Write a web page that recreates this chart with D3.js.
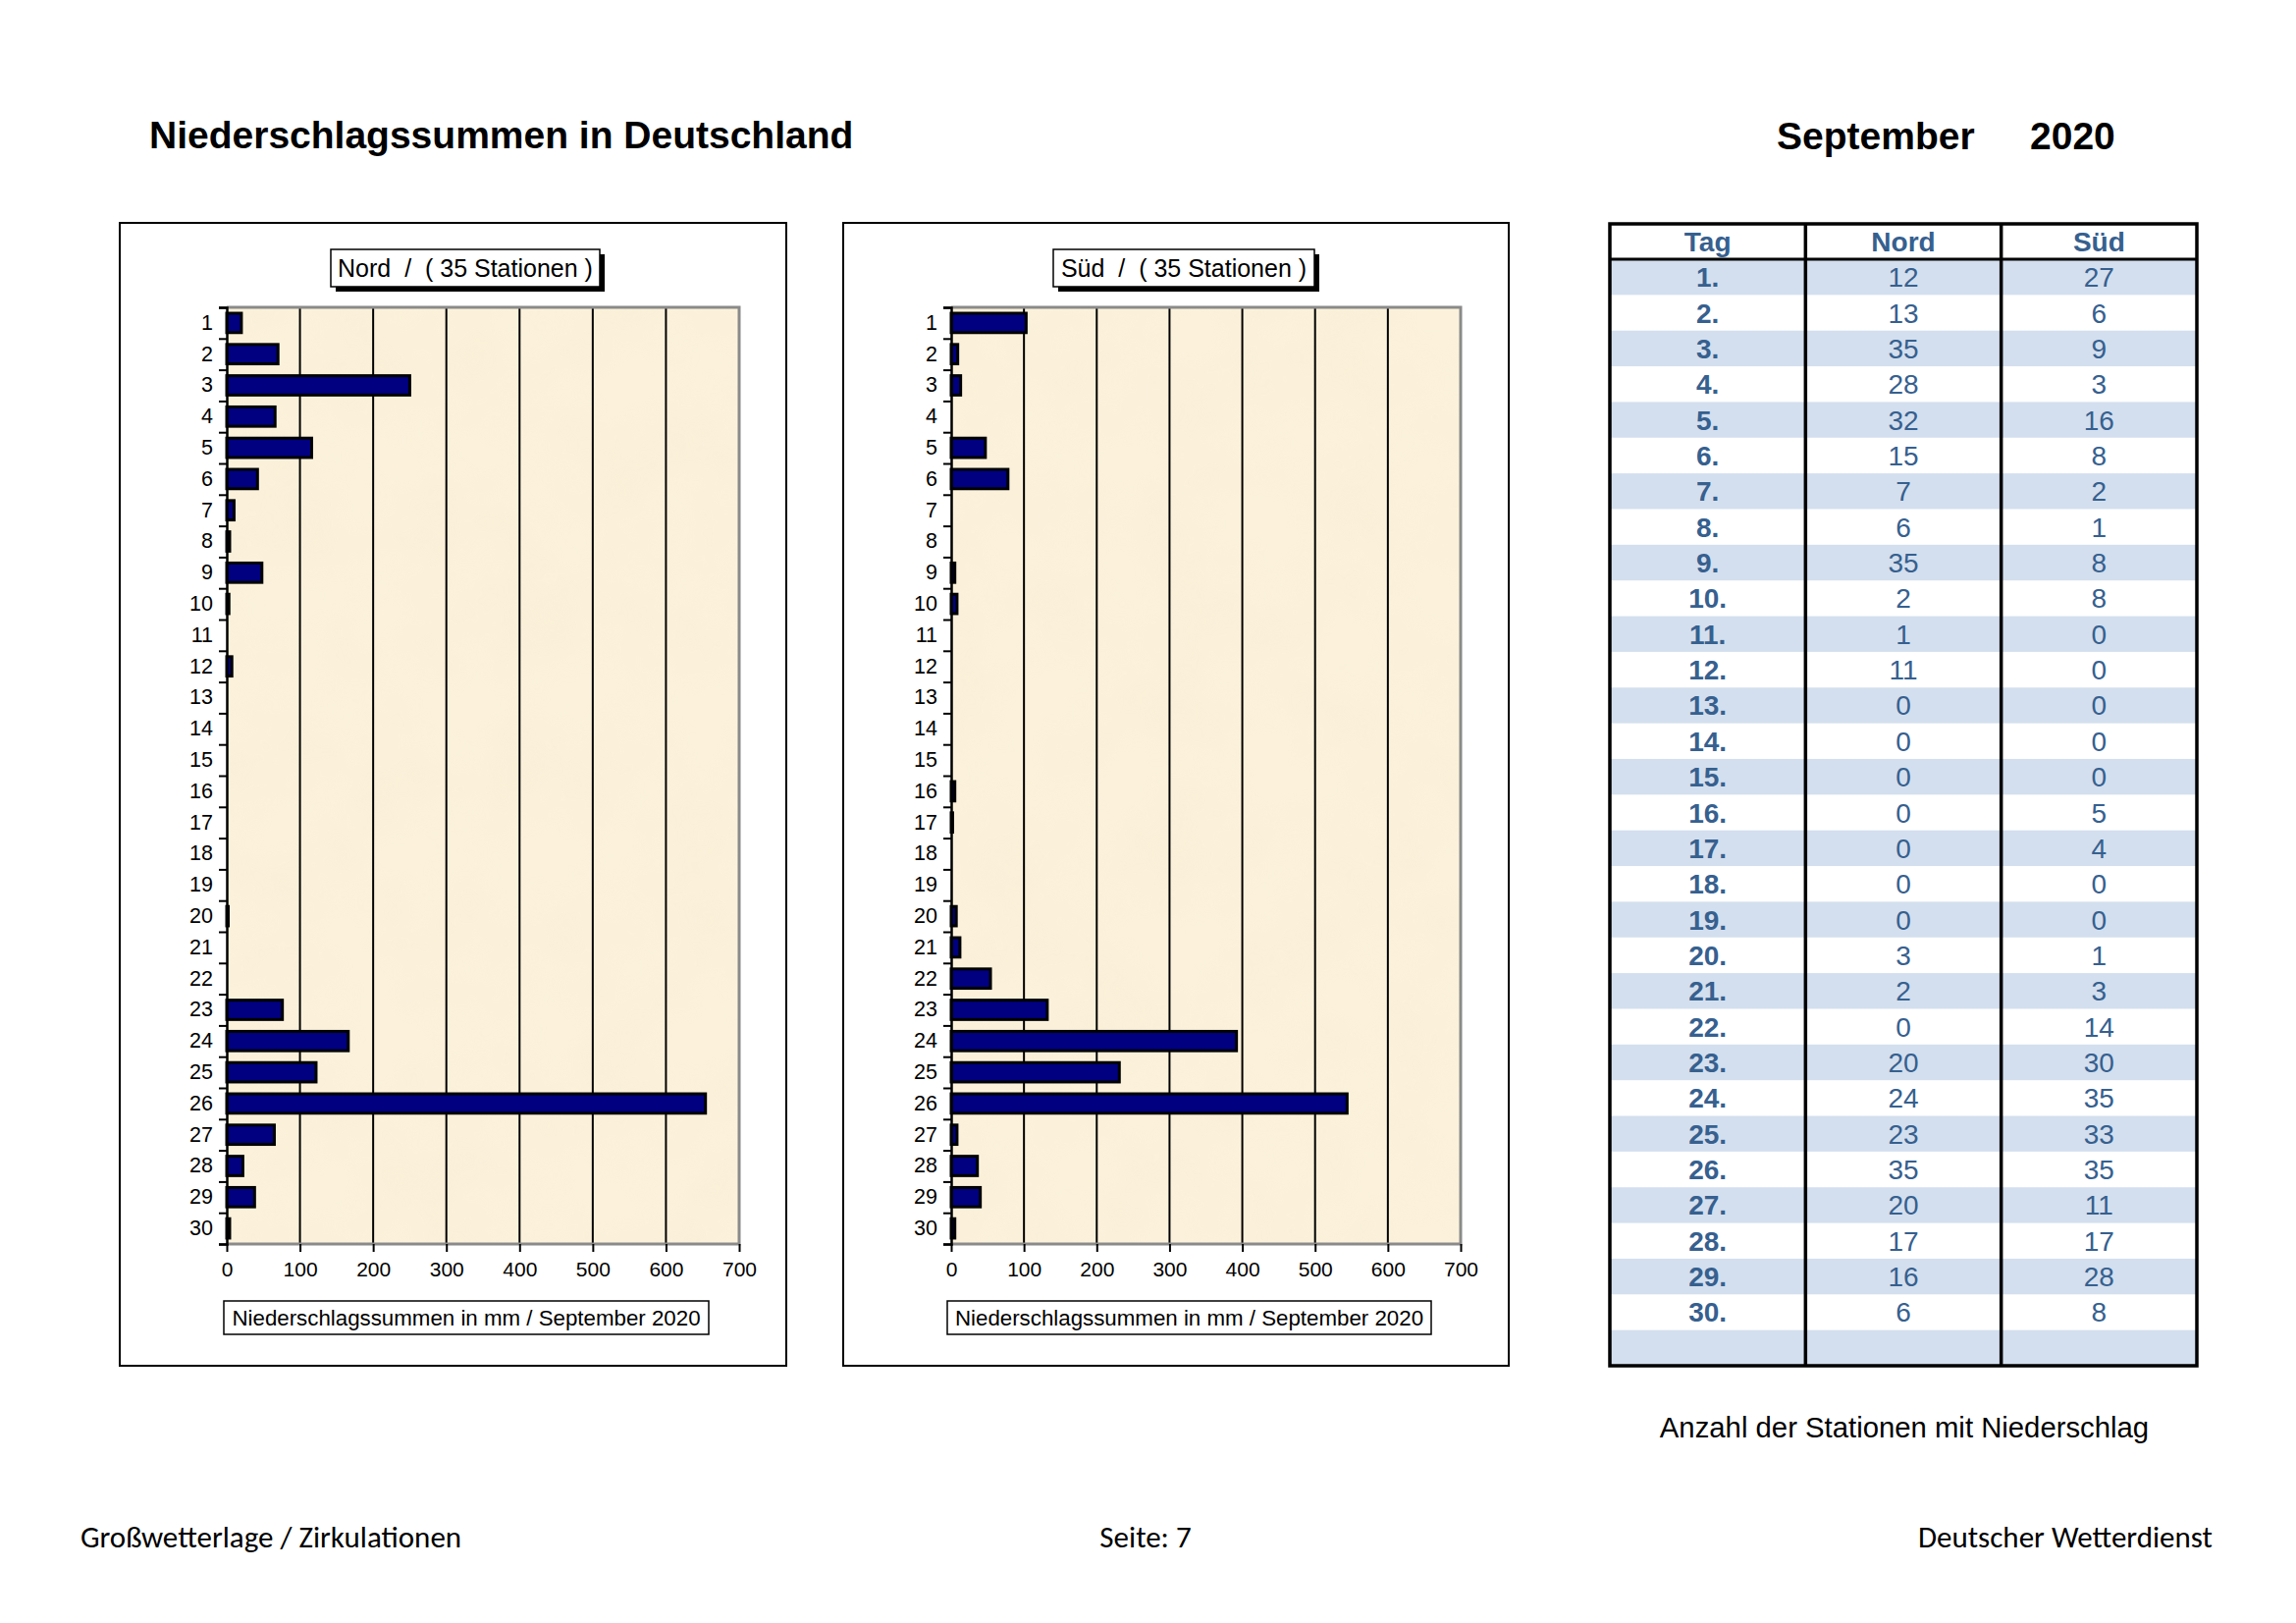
<!DOCTYPE html>
<html><head><meta charset="utf-8">
<script src="https://cdn.jsdelivr.net/npm/d3@7"></script>
<style>body{margin:0;background:#fff}svg{display:block}</style>
</head><body><svg id="c" width="2339" height="1653"></svg>
<script>
// ---------- data ----------
const days = [1,2,3,4,5,6,7,8,9,10,11,12,13,14,15,16,17,18,19,20,21,22,23,24,25,26,27,28,29,30];
const nordSum = [20,70,250,66,116,42,10,4,48,3,0,7,0,0,0,0,0,0,0,2,0,0,76,166,122,654,65,22,38,4];
const suedSum = [103,9,13,0,47,78,0,0,5,8,0,0,0,0,0,5,2,0,0,7,12,54,132,392,231,544,8,36,40,5];
const nordCount = [12,13,35,28,32,15,7,6,35,2,1,11,0,0,0,0,0,0,0,3,2,0,20,24,23,35,20,17,16,6];
const suedCount = [27,6,9,3,16,8,2,1,8,8,0,0,0,0,0,5,4,0,0,1,3,14,30,35,33,35,11,17,28,8];
const xTicks = [0,100,200,300,400,500,600,700];
const tableHeader = ["Tag","Nord","Süd"];
const pageTitle = "Niederschlagssummen in Deutschland";
const monthLabel = "September", yearLabel = "2020";
const axisTitle = "Niederschlagssummen in mm / September 2020";
const tableCaption = "Anzahl der Stationen mit Niederschlag";
const footer = ["Großwetterlage / Zirkulationen","Seite: 7","Deutscher Wetterdienst"];

// ---------- drawing ----------
const svg = d3.select("#c");
const AR = "'Liberation Sans', Arial, sans-serif";
const defs = svg.append("defs");
const f = defs.append("filter").attr("id","parch").attr("x",0).attr("y",0).attr("width",1).attr("height",1);
f.append("feTurbulence").attr("type","fractalNoise").attr("baseFrequency","0.012").attr("numOctaves",4).attr("seed",7).attr("result","n");
f.append("feColorMatrix").attr("in","n").attr("type","matrix")
 .attr("values","0 0 0 0 0.90  0 0 0 0 0.80  0 0 0 0 0.60  0 0 0 0.9 -0.25").attr("result","c");
f.append("feComposite").attr("in","c").attr("in2","SourceGraphic").attr("operator","in");

svg.append("rect").attr("width",2339).attr("height",1653).attr("fill","#fff");

svg.append("text").attr("x",152).attr("y",151).attr("font-family",AR).attr("font-weight","bold")
  .attr("font-size",39).text(pageTitle);
svg.append("text").attr("x",1810).attr("y",152).attr("font-family",AR).attr("font-weight","bold")
  .attr("font-size",39).text(monthLabel);
svg.append("text").attr("x",2068).attr("y",152).attr("font-family",AR).attr("font-weight","bold")
  .attr("font-size",39).text(yearLabel);

function chart(o){
  const g = svg.append("g");
  g.append("rect").attr("x",o.box[0]).attr("y",o.box[1]).attr("width",o.box[2]-o.box[0]).attr("height",o.box[3]-o.box[1])
   .attr("fill","#fff").attr("stroke","#000").attr("stroke-width",2);
  const [l,t,r,b] = o.plot;
  const x = d3.scaleLinear().domain([0,700]).range([l,r]);
  const y = d3.scaleBand().domain(days).range([t,b]).paddingInner(0.38).paddingOuter(0.19);
  const yl = d3.scaleLinear().domain([0.5,30.5]).range([t,b]);
  g.append("rect").attr("x",l).attr("y",t).attr("width",r-l).attr("height",b-t).attr("fill","#fcf2dc");
  g.append("rect").attr("x",l).attr("y",t).attr("width",r-l).attr("height",b-t).attr("fill","#fcf2dc").attr("filter","url(#parch)").attr("opacity",0.4);
  g.selectAll(".grid").data(xTicks.filter(v=>v>0&&v<700)).join("line")
   .attr("x1",d=>x(d)).attr("x2",d=>x(d)).attr("y1",t).attr("y2",b).attr("stroke","#000").attr("stroke-width",2);
  g.append("path").attr("d",`M${l},${t}H${r}V${b}H${l}`).attr("fill","none").attr("stroke","#8a8a8a").attr("stroke-width",3);
  g.selectAll(".bar").data(days.map((d,i)=>({d,v:o.data[i]})).filter(e=>e.v>0)).join("rect")
   .attr("x",x(0)).attr("y",e=>y(e.d)).attr("width",e=>x(e.v)-x(0)).attr("height",y.bandwidth())
   .attr("fill","#000080").attr("stroke","#000").attr("stroke-width",3);
  const ya = g.append("g").attr("transform",`translate(${l},0)`)
    .call(d3.axisLeft(yl).tickValues(d3.range(0.5,31,1)).tickSize(8).tickFormat(""));
  ya.selectAll("line").attr("stroke","#000").attr("stroke-width",2);
  ya.select(".domain").attr("stroke","#000").attr("stroke-width",2.5);
  const yb = g.append("g").attr("transform",`translate(${l},0)`)
    .call(d3.axisLeft(y).tickSize(0).tickPadding(14));
  yb.select(".domain").remove();
  yb.selectAll("text").attr("font-family",AR).attr("font-size",21.5).attr("fill","#000");
  const xa = g.append("g").attr("transform",`translate(0,${b})`)
    .call(d3.axisBottom(x).tickValues(xTicks).tickSize(8).tickPadding(10));
  xa.select(".domain").remove();
  xa.selectAll("line").attr("stroke","#000").attr("stroke-width",2);
  xa.selectAll("text").attr("font-family",AR).attr("font-size",21).attr("fill","#000");
  const tb = o.titleBox;
  g.append("rect").attr("x",tb[0]+5).attr("y",tb[1]+5).attr("width",tb[2]).attr("height",tb[3]).attr("fill","#000");
  g.append("rect").attr("x",tb[0]).attr("y",tb[1]).attr("width",tb[2]).attr("height",tb[3]).attr("fill","#fff").attr("stroke","#000").attr("stroke-width",1.5);
  g.append("text").attr("x",tb[0]+tb[2]/2).attr("y",tb[1]+tb[3]/2+9).attr("text-anchor","middle")
   .attr("font-family",AR).attr("font-size",25).attr("xml:space","preserve").style("white-space","pre").text(o.title);
  const ab = o.axisBox;
  g.append("rect").attr("x",ab[0]).attr("y",ab[1]).attr("width",ab[2]).attr("height",ab[3]).attr("fill","#fff").attr("stroke","#000").attr("stroke-width",1.5);
  g.append("text").attr("x",ab[0]+ab[2]/2).attr("y",ab[1]+ab[3]/2+8).attr("text-anchor","middle")
   .attr("font-family",AR).attr("font-size",22.3).text(axisTitle);
}

chart({box:[122,227,801,1391], plot:[231,313,753,1267], title:"Nord  /  ( 35 Stationen )",
       titleBox:[337,254,274,38], axisBox:[228,1325,494,34], data:nordSum});
chart({box:[859,227,1537,1391], plot:[969,313,1488,1267], title:"Süd  /  ( 35 Stationen )",
       titleBox:[1073,254,266,38], axisBox:[965,1325,493,34], data:suedSum});

// ---------- table ----------
const TC = "#36608f";
const tg = svg.append("g");
const TL = 1640, TR = 2238, TT = 228, TH = 264, TB = 1391;
const colX = d3.scaleBand().domain(tableHeader).range([TL,TR]);
const rowKeys = days.concat(["blank"]);
const rowY = d3.scaleBand().domain(rowKeys).range([TH,TB]);
tg.selectAll(".shade").data(rowKeys.filter((k,i)=>i%2===0)).join("rect")
  .attr("x",TL).attr("y",k=>rowY(k)).attr("width",TR-TL).attr("height",rowY.bandwidth()).attr("fill","#d3dfee");
tg.selectAll(".hd").data(tableHeader).join("text")
  .attr("x",c=>colX(c)+colX.bandwidth()/2).attr("y",256).attr("text-anchor","middle")
  .attr("font-family",AR).attr("font-weight","bold").attr("font-size",28).attr("fill",TC).text(c=>c);
const rows = days.map((d,i)=>[d+".", nordCount[i], suedCount[i]]);
rows.forEach((r,i)=>{
  r.forEach((v,j)=>{
    tg.append("text").attr("x",colX(tableHeader[j])+colX.bandwidth()/2).attr("y",rowY(days[i])+rowY.bandwidth()/2+10)
      .attr("text-anchor","middle").attr("font-family",AR).attr("font-size",28)
      .attr("font-weight",j===0?"bold":"normal").attr("fill",TC).text(v);
  });
});
tg.append("rect").attr("x",TL).attr("y",TT).attr("width",TR-TL).attr("height",TB-TT).attr("fill","none").attr("stroke","#000").attr("stroke-width",3.5);
tg.append("line").attr("x1",TL).attr("x2",TR).attr("y1",TH).attr("y2",TH).attr("stroke","#000").attr("stroke-width",3);
tg.selectAll(".vl").data(tableHeader.slice(1)).join("line")
  .attr("x1",c=>colX(c)).attr("x2",c=>colX(c)).attr("y1",TT).attr("y2",TB).attr("stroke","#000").attr("stroke-width",3.5);

svg.append("text").attr("x",1940).attr("y",1464).attr("text-anchor","middle").attr("font-family",AR)
  .attr("font-size",29.3).text(tableCaption);

// footer
const FF = "Carlito, 'Liberation Sans Narrow', 'Open Sans', sans-serif";
svg.append("text").attr("x",82).attr("y",1576).attr("font-family",FF).attr("font-size",31).text(footer[0]);
svg.append("text").attr("x",1167).attr("y",1576).attr("text-anchor","middle").attr("font-family",FF).attr("font-size",31).text(footer[1]);
svg.append("text").attr("x",2254).attr("y",1576).attr("text-anchor","end").attr("font-family",FF).attr("font-size",31).text(footer[2]);
</script></body></html>
